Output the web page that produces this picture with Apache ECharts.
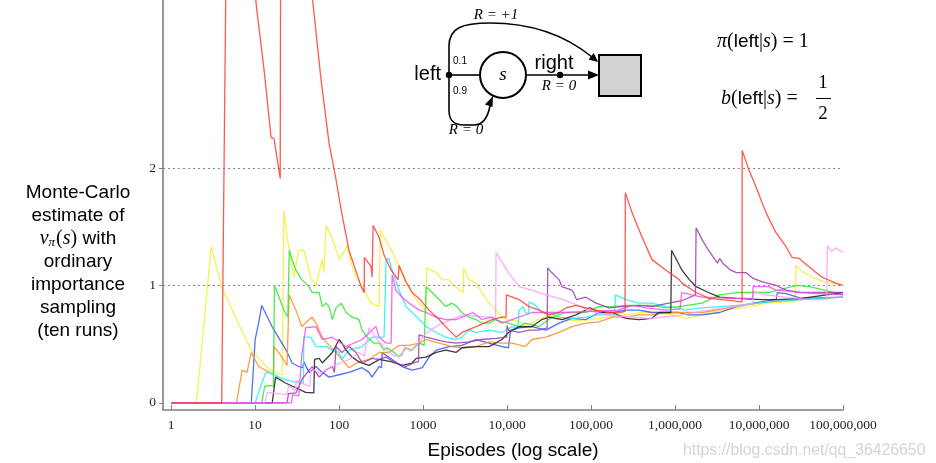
<!DOCTYPE html>
<html><head><meta charset="utf-8">
<script src="https://cdn.jsdelivr.net/npm/echarts@6/dist/echarts.min.js"></script>
<style>html,body{margin:0;padding:0;background:#fff}#c{width:936px;height:463px}</style>
</head><body><div id="c"></div>
<script>
// ---- data: [episode, estimate] ----
const yTicks = [0, 1, 2];
const refLines = [1, 2];

const runRed = [[1,0],[4,0],[5,7.0],[7,5.0],[10.3,3.39],[12.8,2.83],[15.5,2.26],[16.8,2.25],[19.9,1.91],[20.5,7.9],[30,5.5],[40,4.1],[49,3.39],[61,2.75],[76,2.21],[92,1.9],[106,1.64],[131,1.30],[183,0.99],[199,0.94],[200,1.24],[240,1.16],[247,1.07],[254,1.51],[299,1.41],[343,1.26],[416,1.13],[504,1.05],[518,1.17],[628,1.03],[740,0.94],[896,0.89],[1178,0.79],[1549,0.71],[2040,0.62],[2473,0.56],[2911,0.60],[4274,0.65],[6625,0.71],[8710,0.73],[9730,0.73],[9800,0.92],[13900,0.88],[18300,0.82],[24000,0.79],[31600,0.75],[41600,0.77],[50400,0.81],[66200,0.83],[87100,0.81],[115000,0.79],[164000,0.77],[227000,0.77],[254000,0.78],[256000,1.79],[308000,1.62],[405000,1.41],[532000,1.22],[781000,1.13],[1120000,1.05],[1210000,1.02],[1780000,0.94],[2540000,0.89],[3630000,0.88],[6280000,0.86],[6300000,2.15],[7600000,1.98],[9200000,1.84],[12100000,1.62],[15900000,1.45],[21000000,1.33],[24700000,1.24],[30000000,1.23],[39400000,1.16],[56200000,1.07],[82600000,1.02],[100000000,1.00]];

const runYellow = [[1,0],[2,0],[3,1.33],[4,0.99],[6,0.71],[9,0.45],[15,0.28],[21,0.24],[22,1.64],[24,1.41],[29,1.07],[33,1.30],[38,1.30],[46,1.07],[53,1.00],[63,1.22],[66,1.11],[70,1.51],[83,1.40],[100,1.22],[115,1.29],[124,1.34],[139,1.19],[159,1.07],[188,0.99],[227,0.88],[240,0.85],[300,0.82],[310,1.47],[373,1.36],[428,1.29],[518,1.16],[596,1.05],[680,0.99],[826,0.88],[980,0.82],[1086,0.77],[1100,1.15],[1430,1.11],[1690,1.05],[2040,1.05],[2200,1.02],[2700,0.96],[3000,0.94],[3050,1.15],[3500,1.05],[4270,1.02],[5000,0.94],[6100,0.85],[7300,0.79],[8700,0.73],[10400,0.71],[13000,0.70],[18000,0.66],[22000,0.70],[30000,0.74],[40000,0.72],[60000,0.70],[100000,0.71],[160000,0.73],[250000,0.75],[400000,0.77],[600000,0.77],[800000,0.76],[1100000,0.74],[1400000,0.72],[2000000,0.75],[3000000,0.78],[5000000,0.80],[8000000,0.82],[12000000,0.85],[20000000,0.86],[27000000,0.86],[27600000,1.17],[32500000,1.12],[43000000,1.07],[60000000,1.03],[71000000,1.02],[100000000,1.00]];

const runBlue = [[1,0],[9,0],[10,0.54],[11,0.68],[12,0.83],[15.9,0.65],[23.4,0.45],[27.6,0.34],[33,0.31],[37,0.30],[38,0.35],[44,0.26],[53,0.31],[63,0.26],[76,0.22],[100,0.24],[131,0.26],[188,0.30],[227,0.26],[247,0.22],[299,0.31],[320,0.30],[325,0.43],[428,0.37],[560,0.31],[740,0.28],[980,0.30],[1180,0.39],[1430,0.45],[2040,0.48],[2900,0.49],[4270,0.54],[6100,0.51],[8700,0.48],[10400,0.47],[11000,0.62],[13900,0.64],[19800,0.65],[29000,0.62],[41600,0.68],[59000,0.72],[87000,0.71],[124000,0.77],[180000,0.77],[260000,0.79],[370000,0.79],[530000,0.77],[780000,0.77],[1100000,0.77],[1400000,0.75],[2100000,0.75],[3400000,0.77],[5400000,0.82],[8500000,0.85],[16000000,0.88],[16500000,0.94],[21000000,0.93],[32000000,0.89],[100000000,0.90]];

const runOrange = [[1,0],[6,0],[7,0.28],[8,0.26],[9,0.43],[11,0.31],[14.7,0.26],[16.5,0.24],[16.8,0.48],[20,0.41],[24,0.32],[25.4,0.92],[30.6,0.79],[36,0.65],[44,0.71],[47.5,0.73],[53,0.68],[63,0.56],[76,0.49],[100,0.40],[131,0.30],[172,0.35],[227,0.37],[300,0.43],[390,0.43],[518,0.49],[680,0.49],[900,0.51],[1086,0.54],[1550,0.51],[2200,0.48],[2900,0.47],[4270,0.48],[6100,0.52],[8700,0.51],[11500,0.51],[16500,0.48],[19800,0.54],[29000,0.56],[41600,0.60],[59000,0.65],[87000,0.68],[124000,0.69],[180000,0.73],[260000,0.73],[370000,0.75],[530000,0.75],[780000,0.77],[1100000,0.77],[2100000,0.77],[6300000,0.83],[13000000,0.86],[32000000,0.88],[100000000,0.90]];

const runGreen = [[1,0],[12,0],[13,0.14],[15,0.15],[16.5,0.14],[17,1.0],[19.3,0.90],[22,0.79],[24.5,0.73],[25.5,1.30],[27.6,1.22],[30.6,1.13],[36,1.05],[44,0.99],[47.5,0.94],[53,0.94],[58,0.94],[63,0.82],[70,0.85],[76,0.82],[83,0.71],[92,0.81],[100,0.83],[106,0.85],[121,0.77],[143,0.73],[172,0.71],[188,0.62],[216,0.56],[260,0.51],[300,0.51],[343,0.45],[373,0.47],[450,0.43],[518,0.39],[628,0.47],[740,0.45],[896,0.51],[1030,0.49],[1086,0.99],[1280,0.94],[1550,0.88],[1860,0.82],[2200,0.85],[2540,0.82],[2900,0.77],[3500,0.73],[4270,0.71],[5000,0.68],[6100,0.68],[7300,0.71],[8700,0.69],[10400,0.68],[13900,0.65],[16500,0.68],[24000,0.65],[34000,0.73],[50000,0.77],[87000,0.77],[124000,0.82],[180000,0.82],[260000,0.83],[530000,0.83],[780000,0.81],[1100000,0.82],[2100000,0.85],[3400000,0.92],[5400000,0.94],[13000000,0.94],[28000000,1.00],[40000000,0.99],[60000000,0.96],[100000000,0.92]];

const runCyan = [[1,0],[10,0],[12,0.17],[13.5,0.26],[14.7,0.26],[22,0.20],[33,0.17],[37.5,0.17],[38,0.56],[46,0.56],[53,0.48],[70,0.48],[83,0.45],[100,0.43],[108,0.37],[131,0.45],[188,0.48],[247,0.56],[343,0.56],[363,1.22],[390,1.23],[428,1.13],[518,0.96],[628,0.82],[740,0.77],[896,0.71],[1086,0.65],[1430,0.60],[1860,0.56],[2470,0.54],[2900,0.56],[3500,0.62],[4270,0.60],[6100,0.62],[8700,0.60],[11500,0.65],[13500,0.64],[13900,0.79],[15500,0.82],[16500,0.77],[18000,0.76],[18300,0.86],[22000,0.83],[26000,0.77],[31600,0.77],[41600,0.73],[59000,0.72],[87000,0.73],[124000,0.75],[190000,0.75],[195000,0.92],[260000,0.88],[370000,0.85],[530000,0.85],[780000,0.82],[1100000,0.81],[1300000,0.79],[2100000,0.81],[5400000,0.83],[13000000,0.86],[32000000,0.88],[100000000,0.90]];

const runBlack = [[1,0],[16,0],[17.5,0.22],[23,0.17],[40,0.09],[50,0.085],[51,0.37],[58,0.38],[63,0.34],[83,0.43],[100,0.54],[108,0.51],[121,0.45],[143,0.39],[172,0.35],[227,0.32],[300,0.37],[428,0.35],[560,0.32],[740,0.34],[826,0.38],[1086,0.39],[1430,0.43],[1860,0.45],[2470,0.43],[2900,0.47],[4270,0.48],[6100,0.48],[8700,0.54],[10400,0.60],[13900,0.65],[19800,0.65],[26000,0.71],[31600,0.73],[45000,0.71],[66000,0.75],[97000,0.81],[124000,0.77],[180000,0.77],[260000,0.72],[370000,0.71],[530000,0.72],[640000,0.77],[890000,0.77],[910000,1.30],[1210000,1.13],[1480000,1.05],[1780000,0.99],[2500000,0.94],[3400000,0.90],[5400000,0.89],[11000000,0.88],[17000000,0.88],[32000000,0.89],[100000000,0.94]];

const runPurple = [[1,0],[24,0],[25,0.08],[30.6,0.085],[36,0.2],[47.5,0.31],[58,0.22],[70,0.28],[83,0.31],[88,0.26],[92,0.48],[108,0.43],[131,0.48],[159,0.43],[188,0.34],[247,0.38],[300,0.37],[363,0.39],[475,0.34],[628,0.31],[826,0.35],[880,0.35],[896,0.58],[1086,0.56],[1430,0.54],[1860,0.52],[2470,0.51],[3500,0.52],[5000,0.54],[7300,0.55],[9900,0.56],[10000,0.66],[10400,0.62],[13900,0.60],[18300,0.62],[24000,0.62],[30000,0.64],[30500,1.15],[34000,1.11],[41600,1.05],[45000,0.99],[59000,0.96],[62000,0.94],[67000,0.88],[87000,0.90],[115000,0.85],[164000,0.81],[230000,0.82],[370000,0.83],[530000,0.82],[840000,0.85],[1200000,0.87],[1750000,0.92],[1780000,1.49],[2100000,1.39],[2500000,1.30],[3200000,1.19],[3400000,1.23],[3700000,1.19],[4600000,1.13],[5400000,1.11],[7000000,1.11],[8500000,1.06],[11000000,1.03],[16000000,1.00],[21000000,0.96],[32000000,0.94],[53000000,0.94],[100000000,0.94]];

const runPink = [[1,0],[13,0],[14,0.09],[24,0.07],[25,0.15],[30,0.10],[31,0.19],[45,0.14],[46,0.30],[60,0.25],[76,0.30],[131,0.37],[172,0.43],[200,0.40],[227,0.64],[260,0.58],[300,0.52],[360,0.46],[450,0.40],[560,0.40],[600,0.48],[700,0.44],[900,0.52],[1100,0.60],[1500,0.66],[2000,0.70],[3000,0.75],[4000,0.74],[6000,0.73],[7300,0.72],[7400,1.28],[10400,1.11],[13900,0.99],[19800,0.96],[29000,0.92],[41600,0.89],[60000,0.85],[100000,0.78],[200000,0.74],[500000,0.72],[1000000,0.74],[2000000,0.78],[5000000,0.82],[8400000,0.85],[8500000,0.95],[12000000,0.92],[20000000,0.90],[40000000,0.88],[64000000,0.88],[65000000,1.34],[73000000,1.29],[82000000,1.32],[100000000,1.28]];

const runMagenta = [[1,0],[27,0],[28,0.07],[33,0.06],[36,0.41],[40,0.64],[53,0.65],[63,0.54],[83,0.56],[120,0.48],[188,0.54],[247,0.62],[275,0.65],[300,0.56],[363,0.51],[417,0.51],[428,1.09],[475,0.96],[560,0.90],[680,0.85],[900,0.79],[1086,0.77],[1430,0.73],[1860,0.71],[2470,0.71],[2900,0.73],[3900,0.77],[5000,0.71],[6600,0.73],[8700,0.68],[19800,0.77],[50000,0.77],[210000,0.79],[310000,0.83],[450000,0.81],[780000,0.79],[1150000,0.80],[1200000,0.94],[2100000,0.90],[5400000,0.89],[8400000,0.89],[8500000,0.99],[13000000,0.99],[16000000,0.96],[32000000,0.94],[100000000,0.92]];

const runs = [
  {data: runYellow,  color: '#f0f032'},
  {data: runBlue,    color: '#3355ff'},
  {data: runOrange,  color: '#ff8c26'},
  {data: runGreen,   color: '#2ee62e'},
  {data: runCyan,    color: '#22eeee'},
  {data: runBlack,   color: '#1a1a1a'},
  {data: runPurple,  color: '#9b3aae'},
  {data: runPink,    color: '#ff9cff'},
  {data: runMagenta, color: '#f050f0'},
  {data: runRed,     color: '#ff3b30'}
];

function fmtEp(v) {
  const n = Math.round(v);
  if (n < 10000) return String(n);
  return n.toString().replace(/\B(?=(\d{3})+(?!\d))/g, ',');
}

const SANS = 'Liberation Sans';
const SERIF = 'Liberation Serif';
const axisColor = '#808080';

const series = runs.map((r, i) => {
  const s = {
    type: 'line', data: r.data, symbol: 'none', showSymbol: false,
    silent: true, clip: true, z: 2 + i,
    lineStyle: {color: r.color, width: 1.3, opacity: 0.85},
    itemStyle: {color: r.color}
  };
  if (i === 0) {
    s.markLine = {
      symbol: 'none', silent: true, label: {show: false}, animation: false,
      lineStyle: {color: '#888', width: 1, type: [2, 3]},
      data: refLines.map(v => ({yAxis: v}))
    };
  }
  return s;
});

const T = (x, y, text, o) => ({type: 'text', x, y, z: 100,
  style: Object.assign({text, fill: '#000', fontFamily: SANS, fontSize: 20,
    textAlign: 'center', textVerticalAlign: 'middle', verticalAlign: 'middle'}, o || {})});
const stroke = {stroke: '#000', lineWidth: 1.6, fill: null};
const L = (x1, y1, x2, y2) => ({type: 'line', z: 100, shape: {x1, y1, x2, y2}, style: stroke});
const B = (x1, y1, cpx1, cpy1, cpx2, cpy2, x2, y2) => ({type: 'bezierCurve', z: 100,
  shape: {x1, y1, cpx1, cpy1, cpx2, cpy2, x2, y2}, style: stroke});

const graphic = [
  // y axis title
  {type: 'text', x: 78, y: 181, z: 100, style: {
    text: 'Monte-Carlo\nestimate of\n{v|v}{sub|π}{p|(}{v|s}{p|)} with\nordinary\nimportance\nsampling\n(ten runs)',
    fontFamily: SANS, fontSize: 19, lineHeight: 23, fill: '#000',
    textAlign: 'center', align: 'center', textVerticalAlign: 'top', verticalAlign: 'top',
    rich: {
      v: {fontFamily: SERIF, fontStyle: 'italic', fontSize: 20, lineHeight: 23},
      sub: {fontFamily: SERIF, fontStyle: 'italic', fontSize: 13, lineHeight: 23, padding: [9, 1, 0, 0]},
      p: {fontFamily: SERIF, fontSize: 20, lineHeight: 23, fontStyle: 'normal'}
    }
  }},
  // x axis title
  T(513, 451, 'Episodes (log scale)', {fontSize: 19}),
  // watermark
  T(683, 451, 'https://blog.csdn.net/qq_36426650', {fontSize: 15.8, fill: '#d4d4d4', textAlign: 'left'}),
  // diagram
  L(449, 75, 449, 46),
  B(449, 46, 449, 28, 462, 23, 490, 23),
  B(490, 23, 530, 23, 565, 35, 592, 57),
  L(449, 75, 449, 110),
  B(449, 110, 449, 121, 454, 125, 464, 125),
  L(464, 125, 474, 125),
  B(474, 125, 484, 125, 488, 116, 490, 106),
  L(449, 75, 480, 75),
  L(526, 75, 591, 75),
  {type: 'circle', z: 100, shape: {cx: 503, cy: 75, r: 23}, style: {fill: '#fff', stroke: '#000', lineWidth: 2}},
  {type: 'circle', z: 101, shape: {cx: 449, cy: 75, r: 3.2}, style: {fill: '#000'}},
  {type: 'circle', z: 101, shape: {cx: 560, cy: 75, r: 3.2}, style: {fill: '#000'}},
  {type: 'rect', z: 100, shape: {x: 599, y: 55, width: 42, height: 41}, style: {fill: '#d3d3d3', stroke: '#000', lineWidth: 2}},
  {type: 'polygon', z: 101, shape: {points: [[599, 75], [588, 70.5], [588, 79.5]]}, style: {fill: '#000'}},
  {type: 'polygon', z: 101, shape: {points: [[598, 62], [588.5, 59.5], [593.8, 53]]}, style: {fill: '#000'}},
  {type: 'polygon', z: 101, shape: {points: [[493, 96], [492.5, 107], [485, 104.5]]}, style: {fill: '#000'}},
  T(441, 74, 'left', {textAlign: 'right'}),
  T(554, 63, 'right'),
  T(503, 75, 's', {fontFamily: SERIF, fontStyle: 'italic', fontSize: 19}),
  T(460, 61, '0.1', {fontSize: 10}),
  T(460, 91, '0.9', {fontSize: 10}),
  T(496, 15, 'R = +1', {fontFamily: SERIF, fontStyle: 'italic', fontSize: 15}),
  T(559, 86, 'R = 0', {fontFamily: SERIF, fontStyle: 'italic', fontSize: 15}),
  T(466, 130, 'R = 0', {fontFamily: SERIF, fontStyle: 'italic', fontSize: 15}),
  // formulas
  {type: 'text', x: 717, y: 42, z: 100, style: {
    text: '{it|π}{n|(}{sf|left}{n||}{it|s}{n|) = 1}', textAlign: 'left', textVerticalAlign: 'middle', verticalAlign: 'middle',
    rich: {it: {fontFamily: SERIF, fontStyle: 'italic', fontSize: 20}, n: {fontFamily: SERIF, fontSize: 20},
      sf: {fontFamily: SANS, fontSize: 19}}
  }},
  {type: 'text', x: 721, y: 99, z: 100, style: {
    text: '{it|b}{n|(}{sf|left}{n||}{it|s}{n|) =}', textAlign: 'left', textVerticalAlign: 'middle', verticalAlign: 'middle',
    rich: {it: {fontFamily: SERIF, fontStyle: 'italic', fontSize: 20}, n: {fontFamily: SERIF, fontSize: 20},
      sf: {fontFamily: SANS, fontSize: 19}}
  }},
  T(823, 83, '1', {fontFamily: SERIF, fontSize: 19}),
  {type: 'line', z: 100, shape: {x1: 816, y1: 98.5, x2: 831, y2: 98.5}, style: {stroke: '#000', lineWidth: 1}},
  T(823, 114, '2', {fontFamily: SERIF, fontSize: 19})
];

const option = {
  animation: false,
  backgroundColor: '#fff',
  grid: {left: 163, right: 93, top: 0, bottom: 53, containLabel: false},
  xAxis: {
    type: 'log', logBase: 10, min: 0.8, max: 1e8,
    axisLine: {show: true, onZero: false, lineStyle: {color: axisColor, width: 1.6}},
    axisTick: {show: true, inside: true, length: 5, lineStyle: {color: axisColor, width: 1}},
    minorTick: {show: false},
    axisLabel: {showMinLabel: false, margin: 8, color: '#222', fontFamily: SERIF, fontSize: 13.5, formatter: fmtEp},
    splitLine: {show: false}
  },
  yAxis: {
    type: 'value', min: -0.06, max: 3.43,
    axisLine: {show: true, onZero: false, lineStyle: {color: axisColor, width: 1.6}},
    axisTick: {show: true, inside: false, length: 4, customValues: yTicks, lineStyle: {color: axisColor, width: 1}},
    axisLabel: {customValues: yTicks, margin: 7, color: '#222', fontFamily: SERIF, fontSize: 13.5,
      formatter: v => (yTicks.indexOf(Math.round(v * 1000) / 1000) >= 0 ? String(Math.round(v)) : '')},
    splitLine: {show: false}
  },
  series,
  graphic
};

const chart = echarts.init(document.getElementById('c'), null, {renderer: 'canvas'});
chart.setOption(option);
</script>
</body></html>
